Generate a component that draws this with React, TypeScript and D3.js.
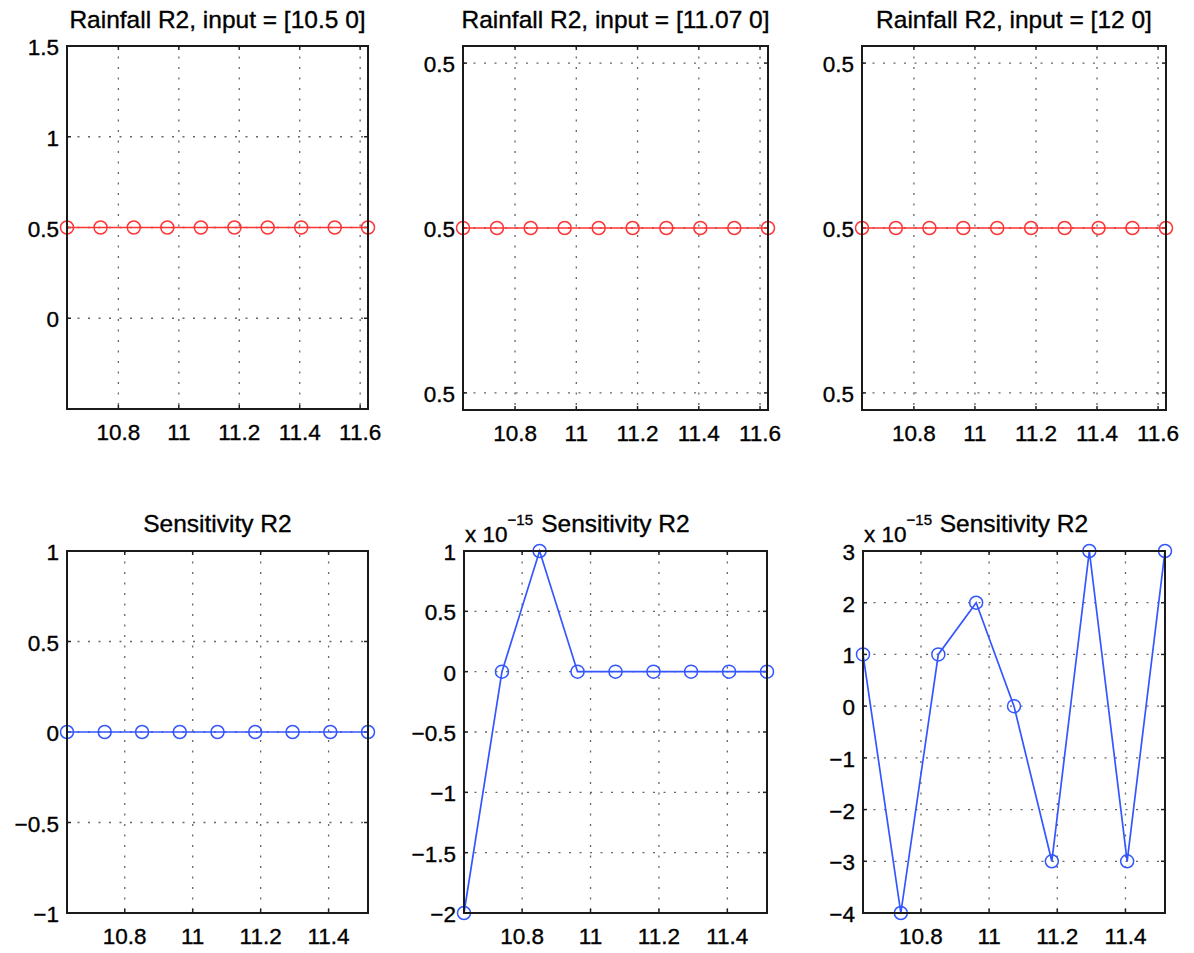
import React, {useEffect, useRef} from 'react';
import * as d3 from 'd3';

// x positions of the samples (top row has 10, bottom row 9)
const xTop = [10.63, 10.741, 10.851, 10.962, 11.073, 11.184, 11.294, 11.405, 11.516, 11.626];
const xBottom = [10.63, 10.741, 10.851, 10.962, 11.073, 11.184, 11.294, 11.405, 11.516];

const rainfall1 = [0.5, 0.5, 0.5, 0.5, 0.5, 0.5, 0.5, 0.5, 0.5, 0.5];
const rainfall2 = [0.5, 0.5, 0.5, 0.5, 0.5, 0.5, 0.5, 0.5, 0.5, 0.5];
const rainfall3 = [0.5, 0.5, 0.5, 0.5, 0.5, 0.5, 0.5, 0.5, 0.5, 0.5];

// sensitivities (middle and right panels in units of 1e-15)
const sens1 = [0, 0, 0, 0, 0, 0, 0, 0, 0];
const sens2 = [-2, 0, 1, 0, 0, 0, 0, 0, 0];
const sens3 = [1, -4, 1, 2, 0, -3, 3, -3, 3];

const titles = [
  'Rainfall R2, input = [10.5 0]',
  'Rainfall R2, input = [11.07 0]',
  'Rainfall R2, input = [12 0]',
  'Sensitivity R2',
  'Sensitivity R2',
  'Sensitivity R2'
];

const xTicksTop = [10.8, 11, 11.2, 11.4, 11.6];
const xTicksBottom = [10.8, 11, 11.2, 11.4];

const yTicks1 = [0, 0.5, 1, 1.5];
// tiny-range axes: matlab prints the same rounded label three times
const yTicksFlat = [0.047, 0.5, 0.953];
const yLabelsFlat = ['0.5', '0.5', '0.5'];
const yTicks4 = [-1, -0.5, 0, 0.5, 1];
const yTicks5 = [-2, -1.5, -1, -0.5, 0, 0.5, 1];
const yTicks6 = [-4, -3, -2, -1, 0, 1, 2, 3];

const FONT = '"Liberation Sans", Arial, Helvetica, sans-serif';
const fmt = (v: number) => (v < 0 ? '\u2212' + String(-v) : String(v));

const panels = [
  {box: [67, 368, 46, 409], xs: xTop, ys: rainfall1, xDomain: [10.63, 11.626], yDomain: [-0.5, 1.5], xTicks: xTicksTop, yTicks: yTicks1, yLabels: null, color: '#ff3535', title: titles[0], exp: false},
  {box: [463, 768, 46, 410], xs: xTop, ys: rainfall2, xDomain: [10.63, 11.626], yDomain: [0, 1], xTicks: xTicksTop, yTicks: yTicksFlat, yLabels: yLabelsFlat, color: '#ff3535', title: titles[1], exp: false},
  {box: [862, 1166, 46, 410], xs: xTop, ys: rainfall3, xDomain: [10.63, 11.626], yDomain: [0, 1], xTicks: xTicksTop, yTicks: yTicksFlat, yLabels: yLabelsFlat, color: '#ff3535', title: titles[2], exp: false},
  {box: [67, 368, 551, 913], xs: xBottom, ys: sens1, xDomain: [10.63, 11.516], yDomain: [-1, 1], xTicks: xTicksBottom, yTicks: yTicks4, yLabels: null, color: '#3356ff', title: titles[3], exp: false},
  {box: [464, 767, 551, 913], xs: xBottom, ys: sens2, xDomain: [10.63, 11.516], yDomain: [-2, 1], xTicks: xTicksBottom, yTicks: yTicks5, yLabels: null, color: '#3356ff', title: titles[4], exp: true},
  {box: [863, 1165, 551, 913], xs: xBottom, ys: sens3, xDomain: [10.63, 11.516], yDomain: [-4, 3], xTicks: xTicksBottom, yTicks: yTicks6, yLabels: null, color: '#3356ff', title: titles[5], exp: true}
];

function addText(g: any, size: number) {
  return g.append('text')
    .attr('font-size', size).attr('font-family', FONT)
    .attr('fill', '#000').attr('stroke', '#000').attr('stroke-width', 0.35);
}

function drawPanel(svg: any, p: any) {
  const [l, r, t, b] = p.box;
  const x = d3.scaleLinear().domain(p.xDomain).range([l, r]);
  const y = d3.scaleLinear().domain(p.yDomain).range([b, t]);
  const g = svg.append('g');

  // grid
  g.selectAll('.gx').data(p.xTicks).enter().append('line')
    .attr('x1', (d: number) => x(d)).attr('x2', (d: number) => x(d))
    .attr('y1', t).attr('y2', b)
    .attr('stroke', '#666').attr('stroke-width', 1.3)
    .attr('stroke-dasharray', '2,8.5');
  g.selectAll('.gy').data(p.yTicks).enter().append('line')
    .attr('x1', l).attr('x2', r)
    .attr('y1', (d: number) => y(d)).attr('y2', (d: number) => y(d))
    .attr('stroke', '#666').attr('stroke-width', 1.3)
    .attr('stroke-dasharray', '2,8.5');

  // inner tick marks on all four sides
  const tk = 4;
  p.xTicks.forEach((d: number) => {
    g.append('line').attr('x1', x(d)).attr('x2', x(d)).attr('y1', b).attr('y2', b - tk).attr('stroke', '#222').attr('stroke-width', 1.5);
    g.append('line').attr('x1', x(d)).attr('x2', x(d)).attr('y1', t).attr('y2', t + tk).attr('stroke', '#222').attr('stroke-width', 1.5);
  });
  p.yTicks.forEach((d: number) => {
    g.append('line').attr('x1', l).attr('x2', l + tk).attr('y1', y(d)).attr('y2', y(d)).attr('stroke', '#222').attr('stroke-width', 1.5);
    g.append('line').attr('x1', r).attr('x2', r - tk).attr('y1', y(d)).attr('y2', y(d)).attr('stroke', '#222').attr('stroke-width', 1.5);
  });

  // data
  const pts = p.xs.map((v: number, i: number) => [v, p.ys[i]]);
  const line = d3.line().x((d: any) => x(d[0])).y((d: any) => y(d[1]));
  g.append('path').attr('d', line(pts)).attr('fill', 'none')
    .attr('stroke', p.color).attr('stroke-width', 1.7);
  g.selectAll('.pt').data(pts).enter().append('circle')
    .attr('cx', (d: any) => x(d[0])).attr('cy', (d: any) => y(d[1]))
    .attr('r', 6.5).attr('fill', 'none')
    .attr('stroke', p.color).attr('stroke-width', 1.5);

  // box
  g.append('rect').attr('x', l).attr('y', t).attr('width', r - l).attr('height', b - t)
    .attr('fill', 'none').attr('stroke', '#1a1a1a').attr('stroke-width', 2);

  // tick labels
  p.xTicks.forEach((d: number) => {
    addText(g, 22.5).attr('x', x(d)).attr('y', b + 31).attr('text-anchor', 'middle').text(fmt(d));
  });
  p.yTicks.forEach((d: number, i: number) => {
    addText(g, 22.5).attr('x', l - 8).attr('y', y(d) + 9).attr('text-anchor', 'end')
      .text(p.yLabels ? p.yLabels[i] : fmt(d));
  });

  // title
  addText(g, 24.5).attr('x', (l + r) / 2).attr('y', t < 100 ? 28 : 532)
    .attr('text-anchor', 'middle').text(p.title);

  if (p.exp) {
    const e = addText(g, 22.5).attr('x', l + 1).attr('y', 542);
    e.append('tspan').text('x 10');
    e.append('tspan').attr('dy', -17).attr('font-size', 15).text('\u221215');
  }
}

export default function App() {
  const ref = useRef<SVGSVGElement>(null);
  useEffect(() => {
    const svg = d3.select(ref.current);
    svg.selectAll('*').remove();
    svg.append('rect').attr('width', 1194).attr('height', 953).attr('fill', '#fff');
    panels.forEach(p => drawPanel(svg, p));
  }, []);
  return (
    <svg ref={ref} width={1194} height={953} style={{position: 'absolute', left: 0, top: 0}} />
  );
}
